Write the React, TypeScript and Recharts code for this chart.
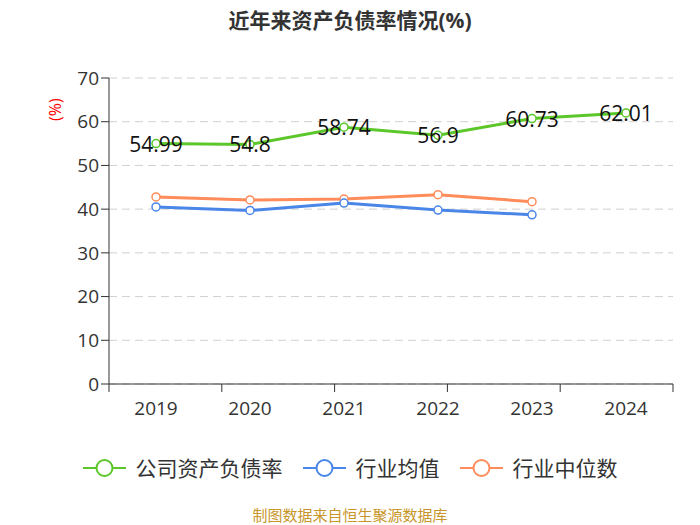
import React from "react";
import { CartesianGrid, LabelList, Line, LineChart, XAxis, YAxis } from "recharts";

const years = ["2019", "2020", "2021", "2022", "2023", "2024"];
const companyRatio = [54.99, 54.8, 58.74, 56.9, 60.73, 62.01];
const industryAvg = [40.5, 39.7, 41.4, 39.8, 38.7, null];
const industryMedian = [42.8, 42.1, 42.3, 43.3, 41.7, null];
const yTicks = [0, 10, 20, 30, 40, 50, 60, 70];
const bandTicks = [0, 1, 2, 3, 4, 5, 6];

const GREEN = "#5cc72a";
const BLUE = "#4a86e8";
const ORANGE = "#ff8c5a";
const FONT = '"Open Sans", "Noto Sans CJK SC", sans-serif';

const data = years.map((year, i) => ({
  year,
  company: companyRatio[i],
  avg: industryAvg[i],
  median: industryMedian[i],
}));

const legendItems = [
  { name: "公司资产负债率", color: GREEN },
  { name: "行业均值", color: BLUE },
  { name: "行业中位数", color: ORANGE },
];

const renderLabel = (props: any) => {
  const { x, y, value } = props;
  return (
    <text
      x={x}
      y={y}
      textAnchor="middle"
      dominantBaseline="central"
      fontSize={21}
      fill="#111"
      fontFamily={FONT}
    >
      {value}
    </text>
  );
};

const LegendIcon = ({ color }: { color: string }) => (
  <svg width={43} height={20} style={{ marginRight: 10 }}>
    <line x1={0} y1={10} x2={43} y2={10} stroke={color} strokeWidth={2} />
    <circle cx={21.5} cy={10} r={8} fill="#fff" stroke={color} strokeWidth={2} />
  </svg>
);

export default function App() {
  return (
    <div
      style={{
        position: "absolute",
        left: 0,
        top: 0,
        width: 700,
        height: 525,
        background: "#fff",
        fontFamily: FONT,
      }}
    >
      <div
        style={{
          position: "absolute",
          top: 4,
          width: 700,
          textAlign: "center",
          fontSize: 21,
          fontWeight: "bold",
          color: "#333",
        }}
      >
        近年来资产负债率情况(%)
      </div>

      <LineChart
        width={700}
        height={525}
        data={data}
        margin={{ top: 78, right: 27, left: 49, bottom: 111 }}
      >
        <CartesianGrid
          xAxisId="b"
          vertical={false}
          stroke="#d0d0d0"
          strokeDasharray="8 5"
        />
        {/* axis line and boundary tick marks between categories */}
        <XAxis
          xAxisId="a"
          type="number"
          domain={[0, 6]}
          ticks={bandTicks}
          height={1}
          stroke="#333"
          tickSize={8}
          tick={() => <g />}
        />
        <XAxis
          xAxisId="b"
          dataKey="year"
          height={29}
          axisLine={false}
          tickLine={false}
          tick={{ fontSize: 19, fill: "#333", fontFamily: FONT }}
          tickMargin={11}
          padding={{ left: 47, right: 47 }}
          interval={0}
        />
        <YAxis
          width={60}
          domain={[0, 70]}
          ticks={yTicks}
          stroke="#333"
          tick={{ fontSize: 19, fill: "#333", fontFamily: FONT }}
          tickSize={8}
          label={{
            value: "(%)",
            angle: -90,
            position: "insideLeft",
            offset: 0,
            fill: "#f00",
            fontSize: 16,
            dx: 6,
            dy: -110,
          }}
        />
        <Line
          xAxisId="b"
          dataKey="median"
          stroke={ORANGE}
          strokeWidth={3}
          dot={{ r: 4, fill: "#fff", stroke: ORANGE, strokeWidth: 1.5 }}
          isAnimationActive={false}
        />
        <Line
          xAxisId="b"
          dataKey="avg"
          stroke={BLUE}
          strokeWidth={3}
          dot={{ r: 4, fill: "#fff", stroke: BLUE, strokeWidth: 1.5 }}
          isAnimationActive={false}
        />
        <Line
          xAxisId="b"
          dataKey="company"
          stroke={GREEN}
          strokeWidth={3}
          dot={{ r: 4, fill: "#fff", stroke: GREEN, strokeWidth: 1.5 }}
          isAnimationActive={false}
        >
          <LabelList dataKey="company" content={renderLabel} />
        </Line>
      </LineChart>

      <div
        style={{
          position: "absolute",
          top: 456,
          left: 0,
          width: 700,
          display: "flex",
          justifyContent: "center",
          alignItems: "center",
          fontSize: 21,
          lineHeight: "24px",
          color: "#333",
        }}
      >
        {legendItems.map((item) => (
          <div
            key={item.name}
            style={{ display: "flex", alignItems: "center", margin: "0 10px" }}
          >
            <LegendIcon color={item.color} />
            <span>{item.name}</span>
          </div>
        ))}
      </div>

      <div
        style={{
          position: "absolute",
          top: 507,
          width: 700,
          textAlign: "center",
          fontSize: 15,
          lineHeight: "16px",
          color: "#c8962a",
        }}
      >
        制图数据来自恒生聚源数据库
      </div>
    </div>
  );
}
